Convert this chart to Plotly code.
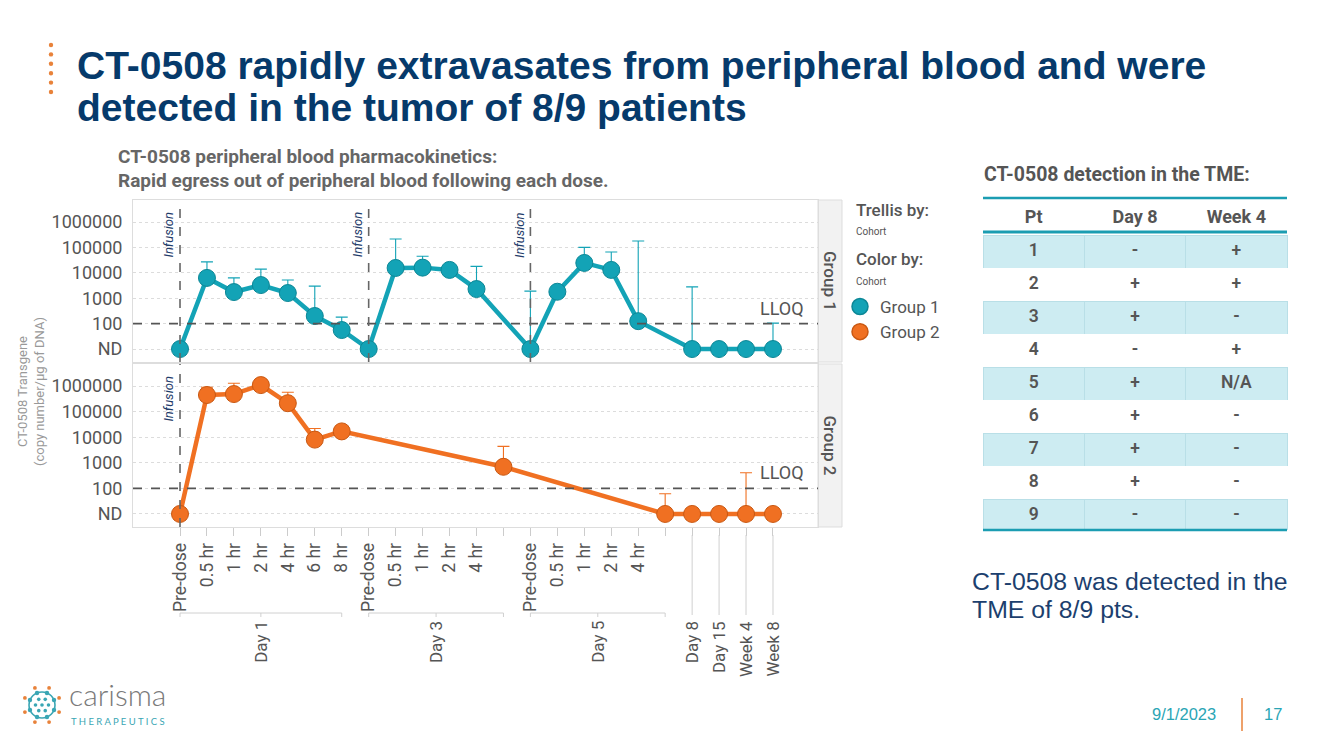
import math
import plotly.graph_objects as go

W, H = 1333, 749
def px(x): return x / W
def py(y): return 1 - y / H

# ---------------- data ----------------
inner_labels = ["Pre-dose", "0.5 hr", "1 hr", "2 hr", "4 hr", "6 hr", "8 hr",
                "Pre-dose", "0.5 hr", "1 hr", "2 hr", "4 hr", "",
                "Pre-dose", "0.5 hr", "1 hr", "2 hr", "4 hr", "",
                "", "", "", ""]
day_groups = ["Day 1", "Day 3", "Day 5"]
day_start = [0, 7, 13]
day_end = [6, 12, 18]
late_labels = ["Day 8", "Day 15", "Week 4", "Week 8"]
late_idx = [19, 20, 21, 22]

y_tickvals = [10, 100, 1000, 10000, 100000, 1000000]
y_ticktext = ["ND", "100", "1000", "10000", "100000", "1000000"]
LLOQ = 100

g1_vals = [10, 6300, 1750, 3300, 1600, 200, 56,
           10, 15500, 16000, 13000, 2300, None,
           10, 1800, 24500, 13000, 125, None,
           10, 10, 10, 10]
g1_err_top = [None, 27000, 6300, 14000, 5200, 3000, 180,
              None, 215000, 45000, None, 18000, None,
              1900, None, 100000, 66000, 180000, None,
              2800, None, None, 105]
g2_vals = [10, 450000, 490000, 1100000, 215000, 8100, 17000,
           None, None, None, None, None, 700,
           None, None, None, None, None, 10,
           10, 10, 10, 10]
g2_err_top = [None, 900000, 1300000, None, 575000, 22000, None,
              None, None, None, None, None, 4400,
              None, None, None, None, None, 62,
              None, None, 410, None]
infusion_g1 = [0, 7, 13]
infusion_g2 = [0]

table_pt = ["1", "2", "3", "4", "5", "6", "7", "8", "9"]
table_day8 = ["-", "+", "+", "-", "+", "+", "+", "+", "-"]
table_week4 = ["+", "+", "-", "+", "N/A", "-", "-", "-", "-"]
table_header = ["Pt", "Day 8", "Week 4"]

# ---------------- styling ----------------
TEAL = "#13a3b6"
TEAL_EDGE = "#0c8796"
ORANGE = "#f07022"
ORANGE_EDGE = "#c95812"
GRAY = "#555555"
NAVY = "#063a6b"
FONT = "Roboto"

fig = go.Figure()

def add_group(vals, tops, color, edge, xa, ya):
    xs, ys, plus = [], [], []
    for i, v in enumerate(vals):
        if v is None:
            continue
        xs.append(i)
        ys.append(v)
        t = tops[i]
        plus.append((t - v) if t is not None else 0)
    fig.add_trace(go.Scatter(
        x=xs, y=ys, mode="lines+markers", xaxis=xa, yaxis=ya,
        line=dict(color=color, width=4.5),
        marker=dict(size=17, color=color, line=dict(color=edge, width=1)),
        error_y=dict(type="data", symmetric=False, array=plus,
                     arrayminus=[0] * len(plus), color=color,
                     thickness=1.1, width=6),
        showlegend=False, cliponaxis=False, hoverinfo="skip"))

add_group(g1_vals, g1_err_top, TEAL, TEAL_EDGE, "x", "y")
add_group(g2_vals, g2_err_top, ORANGE, ORANGE_EDGE, "x2", "y2")

# legend-only traces
for name, c, e in [("Group 1", TEAL, TEAL_EDGE), ("Group 2", ORANGE, ORANGE_EDGE)]:
    fig.add_trace(go.Scatter(x=[None], y=[None], mode="markers", name=name,
                             marker=dict(size=20, color=c, line=dict(color=e, width=1.5)),
                             xaxis="x", yaxis="y"))

# table
row_fill = ["#cdecf2" if i % 2 == 0 else "#ffffff" for i in range(len(table_pt))]
row_line = ["#b9dfe7" if i % 2 == 0 else "#ffffff" for i in range(len(table_pt))]
fig.add_trace(go.Table(
    domain=dict(x=[px(983), px(1287)], y=[py(530), py(198)]),
    columnwidth=[1, 1, 1],
    header=dict(values=["<b>%s</b>" % h for h in table_header], height=34,
                fill_color="white", line=dict(color="white", width=0),
                font=dict(family=FONT, size=18, color=GRAY), align="center"),
    cells=dict(values=[table_pt, table_day8, table_week4], height=33,
               fill_color=[row_fill] * 3, line=dict(color=[row_line] * 3, width=1),
               font=dict(family=FONT, size=17.5, color=GRAY, weight=600), align="center"),
))

# ---------------- axes ----------------
x_dom = [px(133), px(818)]
x_range = [-1.744, 23.67]
y_range = [0.49, 6.866]
ycommon = dict(type="log", range=y_range, tickvals=y_tickvals, ticktext=y_ticktext,
               tickfont=dict(family=FONT, size=18, color=GRAY),
               showgrid=True, gridcolor="#dcdcdc", griddash="dot", gridwidth=1,
               showline=True, linecolor="#dddddd", mirror=True, zeroline=False,
               ticks="", ticklabelstandoff=6)
fig.update_layout(
    xaxis=dict(domain=x_dom, range=x_range, anchor="y", showticklabels=False,
               showgrid=False, zeroline=False, showline=True, linecolor="#dddddd",
               mirror=True, tickvals=list(range(len(inner_labels))), ticks=""),
    yaxis=dict(domain=[py(362), py(200)], anchor="x", **ycommon),
    xaxis2=dict(domain=x_dom, range=x_range, anchor="y2", matches="x",
                tickvals=list(range(len(inner_labels))), ticktext=inner_labels,
                tickangle=-90, ticks="outside", ticklen=8, tickcolor="#cccccc",
                tickfont=dict(family=FONT, size=17.5, color=GRAY),
                showgrid=False, zeroline=False, showline=True, linecolor="#dddddd",
                mirror=True),
    yaxis2=dict(domain=[py(527), py(364)], anchor="x2", **ycommon),
)

shapes = []
annotations = []

def note(text, x, y, size, color=GRAY, family=FONT, xanchor="center", yanchor="middle",
         weight=None, **kw):
    f = dict(family=family, size=size, color=color)
    if weight is not None:
        f["weight"] = weight
    d = dict(text=text, xref="paper", x=px(x), yref="paper", y=py(y), xanchor=xanchor,
             yanchor=yanchor, showarrow=False, font=f)
    d.update(kw)
    annotations.append(d)

# LLOQ lines and labels
for ya, xa in [("y", "x"), ("y2", "x2")]:
    shapes.append(dict(type="line", xref=xa + " domain", x0=0, x1=1, yref=ya,
                       y0=LLOQ, y1=LLOQ, line=dict(color="#555555", width=1.6, dash="dash")))
    annotations.append(dict(text="LLOQ", xref=xa + " domain", x=0.982, xanchor="right",
                            yref=ya, y=math.log10(LLOQ), yanchor="bottom", yshift=3,
                            showarrow=False, font=dict(family=FONT, size=18, color=GRAY)))

# infusion lines
for idxs, xa, ya in [(infusion_g1, "x", "y"), (infusion_g2, "x2", "y2")]:
    for i in idxs:
        shapes.append(dict(type="line", xref=xa, x0=i, x1=i, yref=ya + " domain", y0=0, y1=1,
                           line=dict(color="#666666", width=1.6, dash="dash")))
        annotations.append(dict(text="<i>Infusion</i>", xref=xa, x=i, xanchor="right", xshift=-2,
                                yref=ya + " domain", y=0.935, yanchor="top", textangle=-90,
                                showarrow=False, font=dict(family=FONT, size=13, color="#1f3d6b")))

# group strips
for ya, name in [("y", "Group 1"), ("y2", "Group 2")]:
    shapes.append(dict(type="rect", xref="paper", x0=px(818), x1=px(842),
                       yref=ya + " domain", y0=0, y1=1, fillcolor="#f2f2f2",
                       line=dict(color="#dddddd", width=1), layer="below"))
    annotations.append(dict(text=name, xref="paper", x=px(830), xanchor="center",
                            yref=ya + " domain", y=0.5, yanchor="middle",
                            textangle=90, showarrow=False,
                            font=dict(family=FONT, size=17, color=GRAY, weight=500)))

# x-axis outer level: brackets and day labels
for name, s, e in zip(day_groups, day_start, day_end):
    shapes.append(dict(type="line", xref="x2", x0=s, x1=e, yref="paper", y0=py(613), y1=py(613),
                       line=dict(color="#d0d0d0", width=1)))
    for xx in (s, e, (s + e) / 2):
        shapes.append(dict(type="line", xref="x2", x0=xx, x1=xx, yref="paper",
                           y0=py(613), y1=py(617), line=dict(color="#d0d0d0", width=1)))
    annotations.append(dict(text=name, xref="x2", x=(s + e) / 2, xanchor="center",
                            yref="paper", y=py(619), yanchor="top", textangle=-90,
                            showarrow=False, font=dict(family=FONT, size=17, color=GRAY)))
for name, i in zip(late_labels, late_idx):
    shapes.append(dict(type="line", xref="x2", x0=i, x1=i, yref="paper", y0=py(535), y1=py(615),
                       line=dict(color="#d0d0d0", width=1)))
    annotations.append(dict(text=name, xref="x2", x=i, xanchor="center", yref="paper",
                            y=py(619), yanchor="top", textangle=-90,
                            showarrow=False, font=dict(family=FONT, size=17, color=GRAY)))

# y-axis title
note("CT-0508 Transgene<br>(copy number/µg of DNA)", 31, 392, 13, color="#999999",
     textangle=-90)

# legend headings
for txt, yy, sz in [("Trellis by:", 210, 17), ("Cohort", 232, 10),
                    ("Color by:", 259, 17), ("Cohort", 281, 10)]:
    note(txt, 854, yy, sz, xanchor="left", weight=500 if sz > 12 else 400)

# titles
note("CT-0508 rapidly extravasates from peripheral blood and were", 75, 65, 39,
     color=NAVY, family="Liberation Sans", xanchor="left", weight="bold")
note("detected in the tumor of 8/9 patients", 75, 108, 39,
     color=NAVY, family="Liberation Sans", xanchor="left", weight="bold")
note("CT-0508 peripheral blood pharmacokinetics:", 116, 157, 19, color="#666666",
     xanchor="left", weight="bold")
note("Rapid egress out of peripheral blood following each dose.", 116, 180, 19,
     color="#666666", xanchor="left", weight="bold")
note("CT-0508 detection in the TME:", 982, 174, 19.5, xanchor="left", weight="bold")
note("CT-0508 was detected in the", 970, 581, 24.8, color="#1c3f6e",
     family="Liberation Sans", xanchor="left")
note("TME of 8/9 pts.", 970, 609, 24.8, color="#1c3f6e",
     family="Liberation Sans", xanchor="left")

# table rules
for yy, wdt in [(198, 2.5), (232, 3), (530, 2.5)]:
    shapes.append(dict(type="line", xref="paper", x0=px(983), x1=px(1287), yref="paper",
                       y0=py(yy), y1=py(yy), line=dict(color="#1b9db2", width=wdt), layer="above"))

# footer
note("9/1/2023", 1184, 714, 16.5, color="#2aa5b5", family="Liberation Sans")
note("17", 1273, 714, 16.5, color="#2aa5b5", family="Liberation Sans")
shapes.append(dict(type="line", xref="paper", x0=px(1242), x1=px(1242), yref="paper",
                   y0=py(698), y1=py(731), line=dict(color="#e8823a", width=1.5)))

# decorative orange dots by the title
for k in range(6):
    cy = 45 + k * 9.4
    shapes.append(dict(type="circle", xref="paper", yref="paper",
                       x0=px(51 - 2.2), x1=px(51 + 2.2), y0=py(cy + 2.2), y1=py(cy - 2.2),
                       fillcolor="#e8823a", line=dict(width=0)))

# logo
note("carisma", 67, 694, 30, color="#7a7a7a", family="Lato", xanchor="left", weight=300)
note("T H E R A P E U T I C S", 69, 721, 9.5, color="#3aa6b4", family="Lato", xanchor="left")
cx, cy0 = 42, 705
def circ(x, y, r, fill, line=None):
    shapes.append(dict(type="circle", xref="paper", yref="paper",
                       x0=px(x - r), x1=px(x + r), y0=py(y + r), y1=py(y - r),
                       fillcolor=fill, line=line or dict(width=0)))
circ(cx, cy0, 13, "rgba(0,0,0,0)", dict(color="#3aa6b4", width=1.6))
for k in range(8):
    a = k * math.pi / 4 + math.pi / 8
    circ(cx + 13 * math.cos(a), cy0 + 13 * math.sin(a), 2.2, "#3aa6b4")
    circ(cx + 18.5 * math.cos(a), cy0 + 18.5 * math.sin(a), 1.9, "#e8823a")
circ(cx, cy0, 1.8, "#3aa6b4")
for k in range(6):
    a = k * math.pi / 3
    circ(cx + 6.5 * math.cos(a), cy0 + 6.5 * math.sin(a), 1.8, "#3aa6b4")

fig.update_layout(
    width=W, height=H, margin=dict(l=0, r=0, t=0, b=0),
    paper_bgcolor="white", plot_bgcolor="white",
    shapes=shapes, annotations=annotations,
    showlegend=True,
    legend=dict(x=px(840), y=py(289), xanchor="left", yanchor="top",
                font=dict(family=FONT, size=17, color=GRAY), itemsizing="trace",
                bgcolor="rgba(0,0,0,0)", tracegroupgap=0),
    font=dict(family=FONT),
)

fig.write_html("out.html", config={"displayModeBar": False},
               post_script="document.body.style.margin='0px';document.body.style.padding='0px';")
